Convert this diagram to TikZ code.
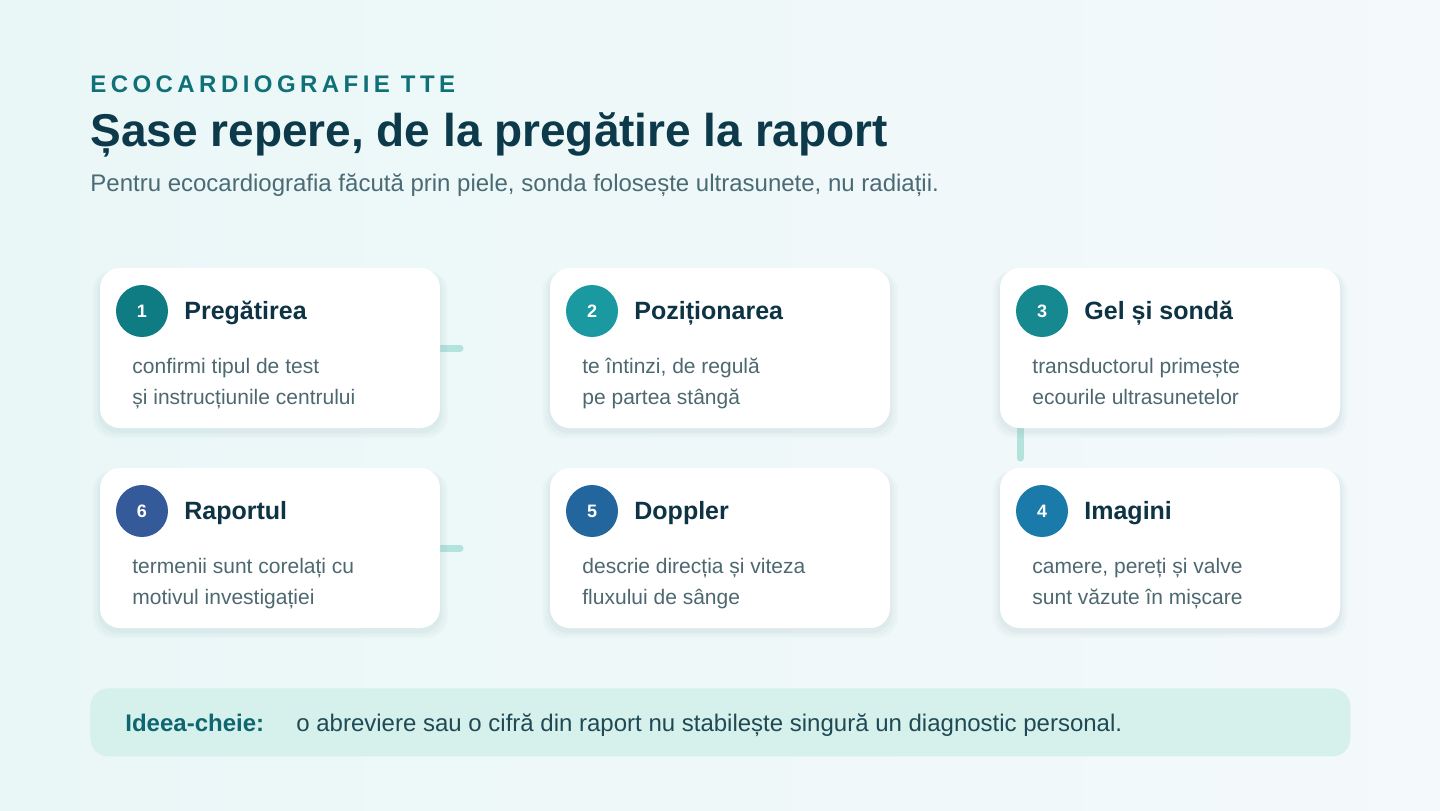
\documentclass[tikz,border=0pt]{standalone}
\usepackage{fontspec}
\setmainfont{Liberation Sans}
\newfontfamily\kickerfont[LetterSpace=18.5]{Liberation Sans}
\usepackage{xcolor}
\usetikzlibrary{positioning,calc,shadows}

\definecolor{bgtop}{HTML}{EAF7F7}
\definecolor{bgbot}{HTML}{F4F9FB}
\definecolor{kicker}{HTML}{0F7078}
\definecolor{headline}{HTML}{0D3A4A}
\definecolor{subline}{HTML}{4A6B76}
\definecolor{titleink}{HTML}{0D3344}
\definecolor{bodyink}{HTML}{4D6870}
\definecolor{linkc}{HTML}{B4E2DC}
\definecolor{keyfill}{HTML}{D6F0EC}
\definecolor{keylabel}{HTML}{0E6670}
\definecolor{keyink}{HTML}{1F4A55}
\definecolor{shadowc}{HTML}{8FB0B5}
\definecolor{stepa}{HTML}{0F7C84}
\definecolor{stepb}{HTML}{1A9AA0}
\definecolor{stepc}{HTML}{158890}
\definecolor{stepd}{HTML}{1A7AAA}
\definecolor{stepe}{HTML}{23669E}
\definecolor{stepf}{HTML}{345A9A}

\pgfdeclarelayer{back}
\pgfdeclarelayer{mid}
\pgfsetlayers{back,mid,main}

\tikzset{
  card/.style={rectangle, fill=white, rounded corners=10pt, minimum width=170pt,
    minimum height=80pt, inner sep=0pt, outer sep=0pt, anchor=north west,
    general shadow={fill=shadowc, fill opacity=0.05, shadow yshift=-3pt, shadow scale=1.045},
    general shadow={fill=shadowc, fill opacity=0.06, shadow yshift=-2.5pt, shadow scale=1.03},
    general shadow={fill=shadowc, fill opacity=0.08, shadow yshift=-2pt, shadow scale=1.012}},
  badge/.style={circle, minimum size=26pt, inner sep=0pt, text=white,
    font=\fontsize{9pt}{10pt}\selectfont\bfseries},
  cardtitle/.style={anchor=base west, inner sep=0pt, text=titleink,
    font=\fontsize{12.5pt}{15pt}\selectfont\bfseries},
  cardbody/.style={anchor=base west, inner sep=0pt, align=left, text=bodyink,
    font=\fontsize{10.5pt}{15.5pt}\selectfont},
  link/.style={draw=linkc, line width=3.5pt, line cap=round}
}

\begin{document}
\begin{tikzpicture}[x=0.5pt, y=-0.5pt]
    % background
    \begin{pgfonlayer}{back}
    \shade[left color=bgtop, right color=bgbot] (0,0) rectangle (1440,810);
    \end{pgfonlayer}
    \useasboundingbox (0,0) rectangle (1440,810);

    % heading
    \node (kick) [anchor=base west, inner sep=0pt, text=kicker, font=\kickerfont\fontsize{12pt}{14pt}\selectfont\bfseries] at (90,92) {ECOCARDIOGRAFIE TTE};
    \node (head) [anchor=base west, inner sep=0pt, text=headline, font=\fontsize{23pt}{27pt}\selectfont\bfseries] at (90,146) {Șase repere, de la pregătire la raport};
    \node (sub) [anchor=base west, inner sep=0pt, text=subline, font=\fontsize{12pt}{14pt}\selectfont] at (90,191) {Pentru ecocardiografia făcută prin piele, sonda folosește ultrasunete, nu radiații.};

    % cards
    \node (card1) [card] at (100,268) {};
    \node (card2) [card, right=55pt of card1] {};
    \node (card3) [card, right=55pt of card2] {};
    \node (card6) [card, below=20pt of card1] {};
    \node (card5) [card, right=55pt of card6] {};
    \node (card4) [card, right=55pt of card5] {};

    % links
    \coordinate (end1) at ($(card1.east)+(10pt,0)$);
    \coordinate (top3) at ($(card3.south west)+(10pt,3pt)$);
    \coordinate (end3) at ($(card3.south west)+(10pt,-15pt)$);
    \coordinate (end6) at ($(card6.east)+(10pt,0)$);
    \begin{pgfonlayer}{mid}
    \draw [link] (card1.center) -- (end1);
    \draw [link] (top3) -- (end3);
    \draw [link] (card6.center) -- (end6);
    \end{pgfonlayer}

    % step 1
    \node (b1) [badge, fill=stepa] at ($(card1.north west)+(21pt,-21.5pt)$) {1};
    \node (t1) [cardtitle] at ($(b1.center)+(21pt,-4.3pt)$) {Pregătirea};
    \node (d1) [cardbody] at ($(card1.north west)+(16pt,-68pt)$) {confirmi tipul de test\\și instrucțiunile centrului};
    % step 2
    \node (b2) [badge, fill=stepb] at ($(card2.north west)+(21pt,-21.5pt)$) {2};
    \node (t2) [cardtitle] at ($(b2.center)+(21pt,-4.3pt)$) {Poziționarea};
    \node (d2) [cardbody] at ($(card2.north west)+(16pt,-68pt)$) {te întinzi, de regulă\\pe partea stângă};
    % step 3
    \node (b3) [badge, fill=stepc] at ($(card3.north west)+(21pt,-21.5pt)$) {3};
    \node (t3) [cardtitle] at ($(b3.center)+(21pt,-4.3pt)$) {Gel și sondă};
    \node (d3) [cardbody] at ($(card3.north west)+(16pt,-68pt)$) {transductorul primește\\ecourile ultrasunetelor};
    % step 4
    \node (b4) [badge, fill=stepd] at ($(card4.north west)+(21pt,-21.5pt)$) {4};
    \node (t4) [cardtitle] at ($(b4.center)+(21pt,-4.3pt)$) {Imagini};
    \node (d4) [cardbody] at ($(card4.north west)+(16pt,-68pt)$) {camere, pereți și valve\\sunt văzute în mișcare};
    % step 5
    \node (b5) [badge, fill=stepe] at ($(card5.north west)+(21pt,-21.5pt)$) {5};
    \node (t5) [cardtitle] at ($(b5.center)+(21pt,-4.3pt)$) {Doppler};
    \node (d5) [cardbody] at ($(card5.north west)+(16pt,-68pt)$) {descrie direcția și viteza\\fluxului de sânge};
    % step 6
    \node (b6) [badge, fill=stepf] at ($(card6.north west)+(21pt,-21.5pt)$) {6};
    \node (t6) [cardtitle] at ($(b6.center)+(21pt,-4.3pt)$) {Raportul};
    \node (d6) [cardbody] at ($(card6.north west)+(16pt,-68pt)$) {termenii sunt corelați cu\\motivul investigației};

    % key idea
    \node (key) [rectangle, fill=keyfill, rounded corners=9pt, anchor=north west, minimum width=630pt, minimum height=34pt, inner sep=0pt] at (90,688) {};
    \node (klabel) [anchor=base west, inner sep=0pt, text=keylabel, font=\fontsize{12pt}{14pt}\selectfont\bfseries] at (125,731) {Ideea-cheie:};
    \node (ktext) [anchor=base west, inner sep=0pt, text=keyink, font=\fontsize{12pt}{14pt}\selectfont] at (296,731) {o abreviere sau o cifră din raport nu stabilește singură un diagnostic personal.};
\end{tikzpicture}
\end{document}
